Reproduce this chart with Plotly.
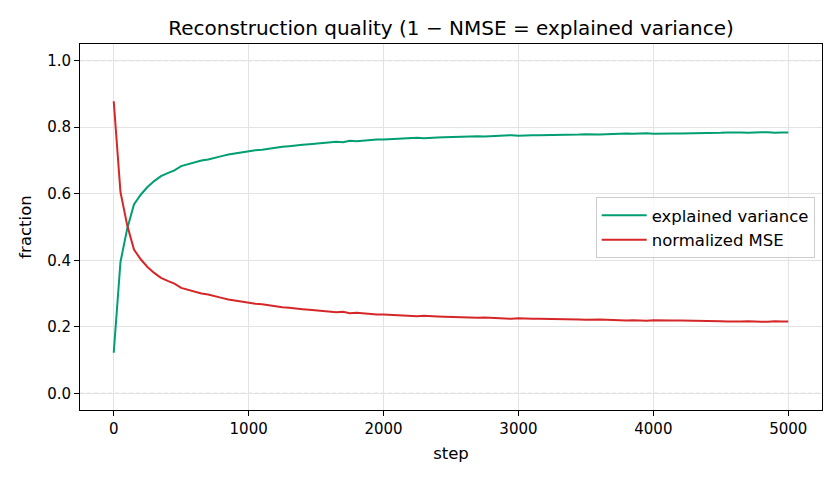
import plotly.graph_objects as go

steps = list(range(0, 5001, 50))

explained_variance = [
    0.122, 0.395, 0.495, 0.568, 0.597, 0.620, 0.638, 0.653, 0.662, 0.670,
    0.683, 0.689, 0.693, 0.700, 0.703, 0.709, 0.713, 0.718, 0.721, 0.725,
    0.729, 0.731, 0.732, 0.735, 0.740, 0.741, 0.743, 0.746, 0.747, 0.749,
    0.751, 0.751, 0.754, 0.756, 0.755, 0.759, 0.758, 0.760, 0.762, 0.763,
    0.763, 0.764, 0.766, 0.765, 0.767, 0.768, 0.767, 0.769, 0.769, 0.770,
    0.771, 0.772, 0.771, 0.773, 0.773, 0.772, 0.773, 0.774, 0.775, 0.776,
    0.774, 0.776, 0.776, 0.776, 0.776, 0.777, 0.777, 0.778, 0.778, 0.778,
    0.779, 0.778, 0.778, 0.779, 0.780, 0.779, 0.781, 0.780, 0.781, 0.782,
    0.780, 0.781, 0.782, 0.781, 0.781, 0.781, 0.783, 0.782, 0.782, 0.783,
    0.783, 0.784, 0.785, 0.784, 0.783, 0.785, 0.785, 0.785, 0.783, 0.784,
    0.784,
]

normalized_mse = [
    0.878, 0.605, 0.505, 0.432, 0.403, 0.380, 0.362, 0.347, 0.338, 0.330,
    0.317, 0.311, 0.307, 0.300, 0.297, 0.291, 0.287, 0.282, 0.279, 0.275,
    0.271, 0.269, 0.268, 0.265, 0.260, 0.259, 0.257, 0.254, 0.253, 0.251,
    0.249, 0.249, 0.246, 0.244, 0.245, 0.241, 0.242, 0.240, 0.238, 0.237,
    0.237, 0.236, 0.234, 0.235, 0.233, 0.232, 0.233, 0.231, 0.231, 0.230,
    0.229, 0.228, 0.229, 0.227, 0.227, 0.228, 0.227, 0.226, 0.225, 0.224,
    0.226, 0.224, 0.224, 0.224, 0.224, 0.223, 0.223, 0.222, 0.222, 0.222,
    0.221, 0.222, 0.222, 0.221, 0.220, 0.221, 0.219, 0.220, 0.219, 0.218,
    0.220, 0.219, 0.218, 0.219, 0.219, 0.219, 0.217, 0.218, 0.218, 0.217,
    0.217, 0.216, 0.215, 0.216, 0.217, 0.215, 0.215, 0.215, 0.217, 0.216,
    0.216,
]

x_ticks = [0, 1000, 2000, 3000, 4000, 5000]
y_ticks = [0.0, 0.2, 0.4, 0.6, 0.8, 1.0]
ref_levels = [0.0, 1.0]

FONT = "DejaVu Sans, sans-serif"

fig = go.Figure()
fig.add_trace(go.Scatter(x=steps, y=explained_variance, mode="lines",
                         name="explained variance",
                         line=dict(color="#009E73", width=2)))
fig.add_trace(go.Scatter(x=steps, y=normalized_mse, mode="lines",
                         name="normalized MSE",
                         line=dict(color="#D62728", width=2)))

for lvl in ref_levels:
    fig.add_hline(y=lvl, line=dict(color="#a0a0a0", width=1, dash="4px,3px"),
                  layer="below")

axis_common = dict(
    showline=True, linecolor="black", linewidth=1, mirror=True,
    ticks="outside", ticklen=5, tickcolor="black", tickwidth=1,
    showgrid=True, gridcolor="#e3e3e3", gridwidth=1, zeroline=False,
    tickfont=dict(family=FONT, size=15, color="black"),
)

fig.update_layout(
    width=840, height=480,
    margin=dict(l=80, r=18, t=44, b=70),
    paper_bgcolor="white", plot_bgcolor="white",
    font=dict(family=FONT, color="black"),
    title=dict(text="Reconstruction quality (1 − NMSE = explained variance)",
               x=0.5 + (80 - 18) / 2 / 840, xanchor="center", y=0.942, yanchor="middle",
               font=dict(family=FONT, size=20, color="black")),
    xaxis=dict(range=[-250, 5250], tickvals=x_ticks,
               ticktext=[str(v) for v in x_ticks],
               title=dict(text="step", font=dict(family=FONT, size=16.5), standoff=10),
               **axis_common),
    yaxis=dict(range=[-0.05, 1.05], tickvals=y_ticks,
               ticktext=[f"{v:.1f}" for v in y_ticks],
               title=dict(text="fraction", font=dict(family=FONT, size=16.5), standoff=11),
               **axis_common),
    legend=dict(x=0.695, y=0.582, xanchor="left", yanchor="top",
                bgcolor="rgba(255,255,255,0.8)", bordercolor="#cccccc", borderwidth=1,
                font=dict(family=FONT, size=16.5, color="black"),
                tracegroupgap=0, itemwidth=45),
    showlegend=True,
)

fig.write_html("out.html")
